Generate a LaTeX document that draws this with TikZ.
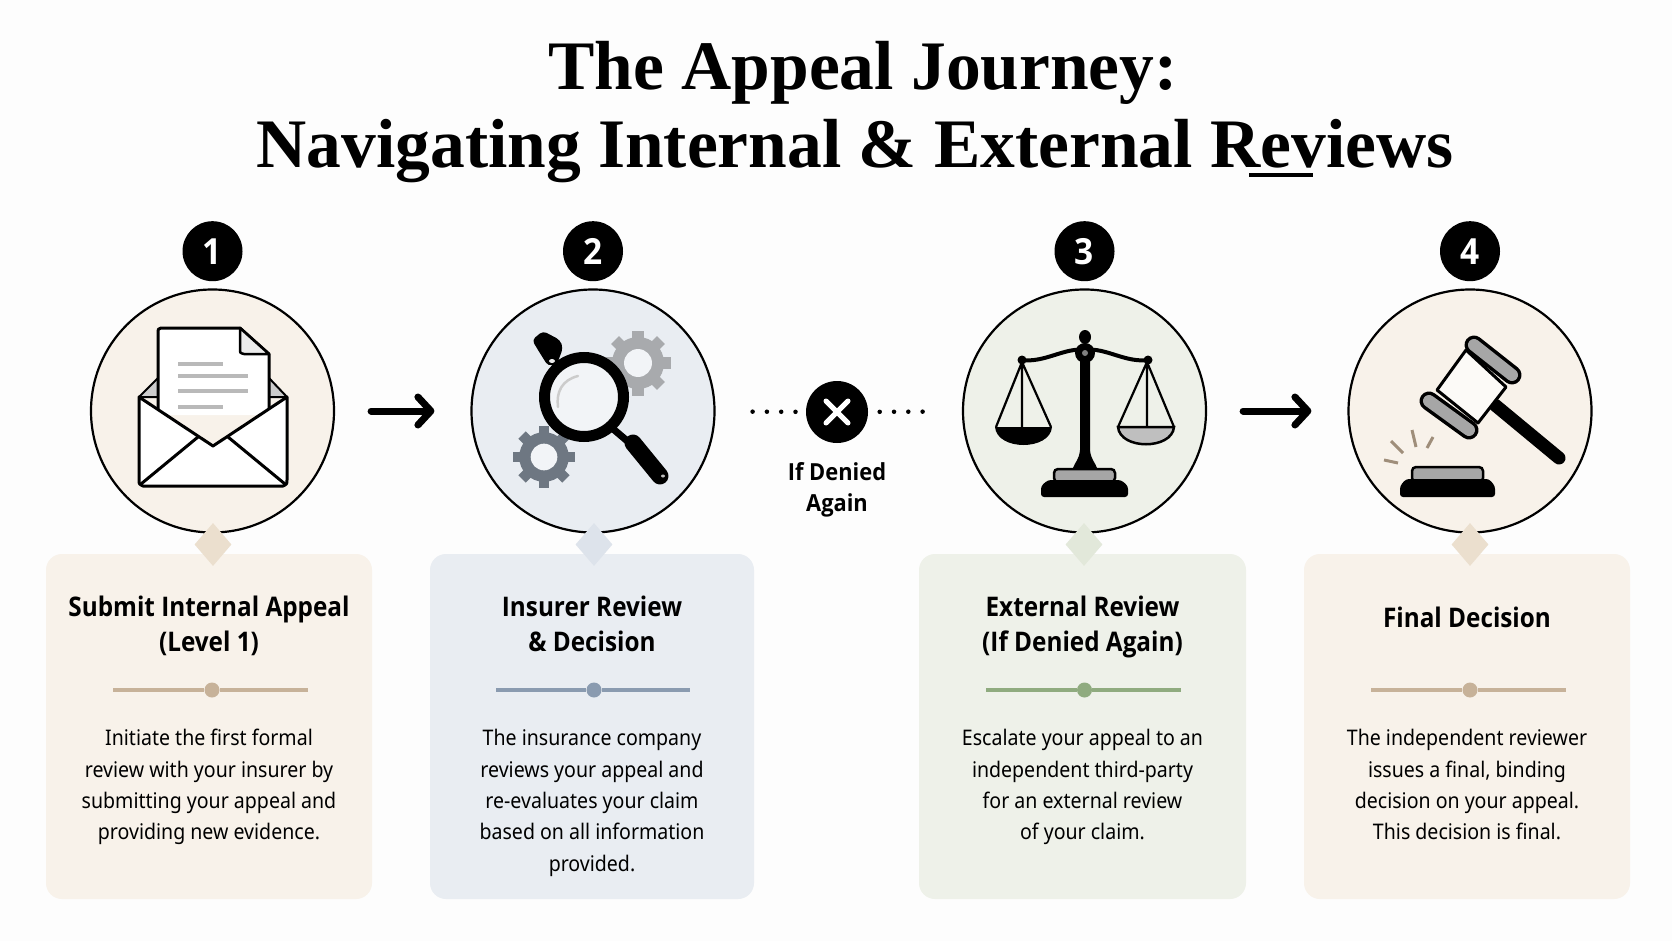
\documentclass[tikz,border=0pt]{standalone}
\usepackage{fontspec}
\usepackage{tikz}
\usetikzlibrary{calc}
\usetikzlibrary{positioning}
\usetikzlibrary{shapes.geometric}
\usetikzlibrary{arrows.meta}
\newfontfamily\headfont{Liberation Serif}
\newfontfamily\copyfont[FakeStretch=0.91]{Noto Sans}
\newfontfamily\strongfont[FakeStretch=0.93]{Open Sans}
\newfontfamily\titlefont[FakeStretch=0.9]{Open Sans}
\definecolor{paper}{HTML}{FDFDFD}
\definecolor{sand}{HTML}{F8F2EA}
\definecolor{mist}{HTML}{E9EDF2}
\definecolor{sage}{HTML}{EEF1E9}
\definecolor{sand_tip}{HTML}{EBDFCE}
\definecolor{mist_tip}{HTML}{DDE3EB}
\definecolor{sage_tip}{HTML}{E2E8DA}
\definecolor{sand_rule}{HTML}{C7B299}
\definecolor{mist_rule}{HTML}{8A9BB0}
\definecolor{sage_rule}{HTML}{8FAB7F}
\definecolor{gear_light}{HTML}{A8AAAD}
\definecolor{gear_dark}{HTML}{6E7782}
\tikzset{
  head_node/.style = {anchor=base, inner sep=0pt, font=\headfont\bfseries\fontsize{69.5}{74}\selectfont},
  badge_node/.style = {circle, fill=black, text=white, minimum size=60pt, inner sep=0pt,
    font=\strongfont\bfseries\fontsize{36}{38}\selectfont},
  step_node/.style = {circle, draw=black, line width=2.2pt, minimum size=243pt, inner sep=0pt},
  card_node/.style = {rectangle, rounded corners=16pt, minimum height=345pt, inner sep=0pt},
  tip_node/.style = {diamond, minimum width=37pt, minimum height=43pt, inner sep=0pt},
  title_node/.style = {anchor=north, align=center, inner sep=0pt, execute at begin node=\strut,
    font=\titlefont\bfseries\fontsize{27}{35}\selectfont},
  text_node/.style = {anchor=north, align=center, inner sep=0pt, execute at begin node=\strut,
    font=\copyfont\fontsize{21.5}{31.3}\selectfont},
  dot_node/.style = {circle, minimum size=15pt, inner sep=0pt},
  rule_line/.style = {line width=3.5pt},
  flow_arrow/.style = {line width=7pt, line cap=round, shorten >=36pt, shorten <=36pt,
    -{Straight Barb[length=13pt, width=28pt, round]}},
  dot_line/.style = {line width=4.5pt, line cap=round, dash pattern=on 0pt off 14.3pt}
}
\newcommand{\gearicon}[4]{%
  \foreach \a in {0,45,...,315} {
    \draw [#4, line width=#3*0.34pt] ($(#1,#2)+(\a:#3*0.6pt)$) -- ($(#1,#2)+(\a:#3pt)$);
  }
  \fill [#4] (#1,#2) circle (#3*0.8pt);
  \fill [mist!60!white] (#1,#2) circle (#3*0.43pt);
}
\begin{document}
\begin{tikzpicture}[x=1pt, y=-1pt]
  \path [use as bounding box, fill=paper] (0,0) rectangle (1672,941);

  \node (head one) [head_node] at (863,90) {The Appeal Journey:};
  \node (head two) [head_node] at (855,168) {Navigating Internal \& External Reviews};
  \draw [line width=3.5pt] (1249,175) -- (1313,175);

  \node (step one) [step_node, fill=sand] at (212.5,411) {};
  \node (step two) [step_node, fill=mist] at (593,411) {};
  \node (step three) [step_node, fill=sage] at (1084.5,411) {};
  \node (step four) [step_node, fill=sand] at (1470,411) {};

  \node (badge one) [badge_node, above=7pt of step one] {1};
  \node (badge two) [badge_node, above=7pt of step two] {2};
  \node (badge three) [badge_node, above=7pt of step three] {3};
  \node (badge four) [badge_node, above=7pt of step four] {4};

  \node (card one) [card_node, fill=sand, minimum width=326pt] at (209,726.5) {};
  \node (card two) [card_node, fill=mist, minimum width=324pt] at (592,726.5) {};
  \node (card three) [card_node, fill=sage, minimum width=327pt] at (1082.5,726.5) {};
  \node (card four) [card_node, fill=sand, minimum width=326pt] at (1467,726.5) {};

  \node (tip one) [tip_node, fill=sand_tip] at (213,544.5) {};
  \node (tip two) [tip_node, fill=mist_tip] at (594,544.5) {};
  \node (tip three) [tip_node, fill=sage_tip] at (1084,544.5) {};
  \node (tip four) [tip_node, fill=sand_tip] at (1470,544.5) {};

  \node (title one) [title_node, below=42pt of card one.north] {Submit Internal Appeal\\(Level 1)};
  \node (title two) [title_node, below=42pt of card two.north] {Insurer Review\\\& Decision};
  \node (title three) [title_node, below=42pt of card three.north] {External Review\\(If Denied Again)};
  \node (title four) [title_node, below=48.5pt of card four.north] {Final Decision};

  \node (dot one) [dot_node, fill=sand_rule] at (212,690) {};
  \node (dot two) [dot_node, fill=mist_rule] at (594,690) {};
  \node (dot three) [dot_node, fill=sage_rule] at (1084.5,690) {};
  \node (dot four) [dot_node, fill=sand_rule] at (1470,690) {};
  \coordinate (rule one a) at (113,690);
  \coordinate (rule one b) at (308,690);
  \coordinate (rule two a) at (496,690);
  \coordinate (rule two b) at (690,690);
  \coordinate (rule three a) at (986,690);
  \coordinate (rule three b) at (1181,690);
  \coordinate (rule four a) at (1371,690);
  \coordinate (rule four b) at (1566,690);
  \draw [rule_line, sand_rule] (rule one a) -- (dot one) (dot one) -- (rule one b);
  \draw [rule_line, mist_rule] (rule two a) -- (dot two) (dot two) -- (rule two b);
  \draw [rule_line, sage_rule] (rule three a) -- (dot three) (dot three) -- (rule three b);
  \draw [rule_line, sand_rule] (rule four a) -- (dot four) (dot four) -- (rule four b);

  \node (text one) [text_node, below=175.5pt of card one.north]
    {Initiate the first formal\\review with your insurer by\\submitting your appeal and\\providing new evidence.};
  \node (text two) [text_node, below=175.5pt of card two.north]
    {The insurance company\\reviews your appeal and\\re-evaluates your claim\\based on all information\\provided.};
  \node (text three) [text_node, below=175.5pt of card three.north]
    {Escalate your appeal to an\\independent third-party\\for an external review\\of your claim.};
  \node (text four) [text_node, below=175.5pt of card four.north]
    {The independent reviewer\\issues a final, binding\\decision on your appeal.\\This decision is final.};

  \node (denied) [circle, fill=black, minimum size=62pt, inner sep=0pt] at (837,412) {};
  \draw [white, line width=5pt, line cap=round] (826,401) -- (848,423) (848,401) -- (826,423);
  \node (denied text) [title_node, font=\strongfont\bfseries\fontsize{23.5}{31}\selectfont,
    below=19pt of denied] {If Denied\\Again};

  \draw [flow_arrow] (step one) -- (step two);
  \draw [flow_arrow] (step three) -- (step four);
  \draw [dot_line, shorten <=37pt, shorten >=9pt] (step two) -- (denied);
  \draw [dot_line, shorten <=11.5pt, shorten >=39pt] (denied) -- (step three);

  % envelope
  \filldraw [fill=gray!40, draw=black, line width=2pt, line join=round]
    (139,397) -- (158,378) -- (269,378) -- (287,397) -- cycle;
  \fill [white] (158,415) -- (158,332) -- (161,328) -- (240,328) -- (269,354) -- (269,415) -- cycle;
  \draw [line width=3pt, line join=round]
    (158,410) -- (158,332) .. controls (158,329) .. (161,328) -- (240,328) -- (269,354) -- (269,410);
  \filldraw [fill=gray!15, draw=black, line width=2.5pt, line join=round]
    (240,328) -- (240,349) .. controls (240,353) .. (244,354) -- (269,354) -- cycle;
  \draw [line width=4pt, gray!55] (178,364) -- (223,364) (178,376) -- (248,376)
    (178,391) -- (248,391) (178,407) -- (223,407);
  \filldraw [fill=white, draw=black, line width=3pt, line join=round]
    (139,397) -- (213,446) -- (287,397) -- (287,480) .. controls (287,484) .. (283,486)
    -- (143,486) .. controls (139,484) .. (139,480) -- cycle;
  \draw [line width=3pt, line cap=round] (141,484) -- (198,437) (285,484) -- (228,437);

  % gears and lens
  \gearicon{638}{363}{32.5}{gear_light}
  \gearicon{544}{457}{31}{gear_dark}
  \fill [rounded corners=4pt] (532,340) -- (543,331) -- (560,340) -- (563,348) -- (557,364)
    -- (548,366) -- (538,350) -- cycle;
  \fill [white!85!gray] (552,361) ellipse (3pt and 2pt);
  \draw [line width=7pt] (612,428) -- (632,445);
  \draw [line width=17pt, line cap=round] (633,443) -- (660,476);
  \fill [gray!50] (663,476) ellipse (2pt and 1.5pt);
  \filldraw [fill=mist!60!white, draw=black, line width=11pt] (584,397) circle (39.5pt);
  \draw [gray!40, line width=2.5pt, line cap=round] (578,376) .. controls (562,380) and (556,392) .. (558,407);

  % scales
  \fill (1085,337) ellipse (6pt and 7pt);
  \fill (1080,345) -- (1090,345) -- (1090,450) .. controls (1091,460) and (1095,462) .. (1097,468)
    -- (1073,468) .. controls (1075,462) and (1079,460) .. (1080,450) -- cycle;
  \draw [line width=4pt] (1022,360) .. controls (1045,363) and (1065,347) .. (1085,350)
    .. controls (1105,347) and (1125,363) .. (1148,360);
  \fill (1022,360) circle (4.5pt) (1148,360) circle (4.5pt) (1085,353) circle (10pt);
  \fill [gray] (1085,353) circle (3pt);
  \draw [line width=2.2pt] (996,427) -- (1022,362) -- (1051,427) (1022,362) -- (1022,427);
  \draw [line width=2.2pt] (1118,427) -- (1147,362) -- (1174,427) (1147,362) -- (1147,427);
  \fill (995,427) -- (1052,427) .. controls (1050,451) and (997,451) .. (995,427) -- cycle;
  \filldraw [fill=gray!50, draw=black, line width=2.5pt]
    (1118,427) -- (1174,427) .. controls (1172,450) and (1120,450) .. (1118,427) -- cycle;
  \filldraw [fill=gray!70, draw=black, line width=2.5pt, rounded corners=4pt]
    (1054,482) -- (1054,469) -- (1115,469) -- (1115,482) -- cycle;
  \fill [rounded corners=3pt] (1041,497) -- (1041,486) -- (1048,480) -- (1121,480) -- (1128,486) -- (1128,497) -- cycle;

  % gavel
  \draw [line width=13pt, line cap=round] (1495,405) -- (1559,458);
  \filldraw [fill=sand!40!white, draw=black, line width=3pt, line join=round]
    (1466,350) -- (1506,387) -- (1478,423) -- (1437,390) -- cycle;
  \draw [line width=19pt, line cap=round] (1474,345) -- (1512,375);
  \draw [line width=12pt, line cap=round, gray!70] (1474,345) -- (1512,375);
  \draw [line width=19pt, line cap=round] (1429,401) -- (1469,430);
  \draw [line width=12pt, line cap=round, gray!70] (1429,401) -- (1469,430);
  \filldraw [fill=gray!70, draw=black, line width=2.5pt, rounded corners=4pt]
    (1412,482) -- (1412,467) -- (1483,467) -- (1483,482) -- cycle;
  \fill [rounded corners=3pt] (1400,497) -- (1400,486) -- (1406,479) -- (1489,479) -- (1495,486) -- (1495,497) -- cycle;
  \draw [line width=3pt, sand_rule!80!black] (1412,430) -- (1416,447) (1391,441) -- (1403,453)
    (1433,437) -- (1427,448) (1384,460) -- (1398,463);
\end{tikzpicture}
\end{document}
